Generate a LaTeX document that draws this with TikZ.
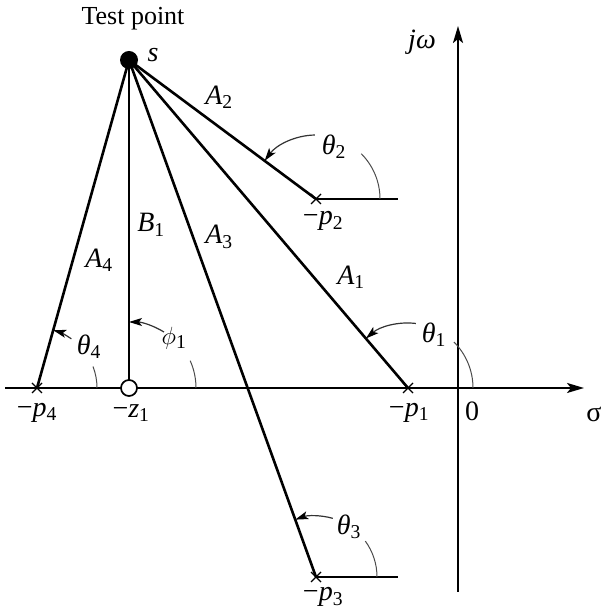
\documentclass[tikz,border=0pt]{standalone}
\usepackage{fontspec}
\setmainfont{Liberation Serif}
\usetikzlibrary{arrows.meta}
\tikzset{
  lbl/.style={font=\fontsize{28}{32}\selectfont, inner sep=0pt},
  ray/.style={line width=2.6pt},
  axis/.style={line width=2.2pt},
  angarc/.style={line width=1pt, black!70},
  angarrow/.style={line width=1.2pt, black!80, -{Stealth[length=13pt,width=8pt,inset=3pt,black]}},
  pole/.style={line width=1.2pt}
}
\newcommand{\polemark}[1]{\draw[pole] ([shift={(-5,-5)}]#1) -- ([shift={(5,5)}]#1) ([shift={(-5,5)}]#1) -- ([shift={(5,-5)}]#1);}
\begin{document}
\begin{tikzpicture}[x=1pt,y=1pt]
\useasboundingbox (0,0) rectangle (602,610);
% points
\coordinate (s) at (129,550);
\coordinate (p2) at (316,411);
\coordinate (p2e) at (398,411);
\coordinate (p1) at (408,222);
\coordinate (p3) at (316,33);
\coordinate (p3e) at (398,33);
\coordinate (p4) at (37,222);
\coordinate (z1) at (129,222);
\coordinate (xl) at (5,222);
\coordinate (xr) at (584,222);
\coordinate (yb) at (458,18);
\coordinate (yt) at (458,584);
% axes
\draw[axis,-{Stealth[length=17pt,width=10pt,inset=4pt]}] (xl) -- (xr);
\draw[axis,-{Stealth[length=17pt,width=10pt,inset=4pt]}] (yb) -- (yt);
% rays
\draw[ray] (s) -- (p4);
\draw[ray] (s) -- (z1);
\draw[ray] (s) -- (p3);
\draw[ray] (s) -- (p1);
\draw[ray] (s) -- (p2);
% horizontal references
\draw[line width=1.7pt] (p2) -- (p2e);
\draw[line width=1.7pt] (p3) -- (p3e);
% poles and zero
\polemark{p1}
\polemark{p2}
\polemark{p3}
\polemark{p4}
\draw[line width=1.7pt, fill=white] (z1) circle (8);
\fill (s) circle (9);
% angle arcs
\draw[angarc] ([shift={(0:64)}]p2) arc[start angle=0,end angle=45,radius=64];
\draw[angarrow] ([shift={(91:64)}]p2) arc[start angle=91,end angle=143.4,radius=64];
\draw[angarc] ([shift={(0:65)}]p1) arc[start angle=0,end angle=45,radius=65];
\draw[angarrow] ([shift={(83:65)}]p1) arc[start angle=83,end angle=130.4,radius=65];
\draw[angarc] ([shift={(0:61)}]p3) arc[start angle=0,end angle=36,radius=61];
\draw[angarrow] ([shift={(74:61)}]p3) arc[start angle=74,end angle=109.9,radius=61];
\draw[angarc] ([shift={(0:60)}]p4) arc[start angle=0,end angle=21,radius=60];
\draw[angarrow] ([shift={(55:60)}]p4) arc[start angle=55,end angle=74.3,radius=60];
\draw[angarc] ([shift={(0:67)}]z1) arc[start angle=0,end angle=24,radius=67];
\draw[angarrow] ([shift={(58:66)}]z1) arc[start angle=58,end angle=90,radius=66];
% labels
\node[lbl, font=\fontsize{26}{30}\selectfont] (tp) at (133,591) {Test point};
\node[lbl] (ls) at (153,555) {\itshape s};
\node[lbl] (la2) at (219,513) {\itshape A\textsubscript{\upshape 2}};
\node[lbl] (lt2) at (334,463) {\itshape θ\textsubscript{\upshape 2}};
\node[lbl] (lp2) at (323,389) {−\itshape p\textsubscript{\upshape 2}};
\node[lbl] (lb1) at (151,385) {\itshape B\textsubscript{\upshape 1}};
\node[lbl] (la3) at (219,373) {\itshape A\textsubscript{\upshape 3}};
\node[lbl] (la4) at (99,350) {\itshape A\textsubscript{\upshape 4}};
\node[lbl] (la1) at (351,333) {\itshape A\textsubscript{\upshape 1}};
\node[lbl] (lt1) at (434,275) {\itshape θ\textsubscript{\upshape 1}};
\node[lbl] (lt4) at (89,263) {\itshape θ\textsubscript{\upshape 4}};
\node[lbl] (lf1) at (174,272) {$\phi$\textsubscript{1}};
\node[lbl] (lp4) at (37,197) {−\itshape p\textsubscript{\upshape 4}};
\node[lbl] (lz1) at (131,197) {−\itshape z\textsubscript{\upshape 1}};
\node[lbl] (lp1) at (409,197) {−\itshape p\textsubscript{\upshape 1}};
\node[lbl] (l0) at (472,199) {0};
\node[lbl] (lsig) at (594,196) {σ};
\node[lbl] (ljw) at (422,568) {\itshape jω};
\node[lbl] (lt3) at (349,83) {\itshape θ\textsubscript{\upshape 3}};
\node[lbl] (lp3) at (323,13) {−\itshape p\textsubscript{\upshape 3}};
\end{tikzpicture}
\end{document}
